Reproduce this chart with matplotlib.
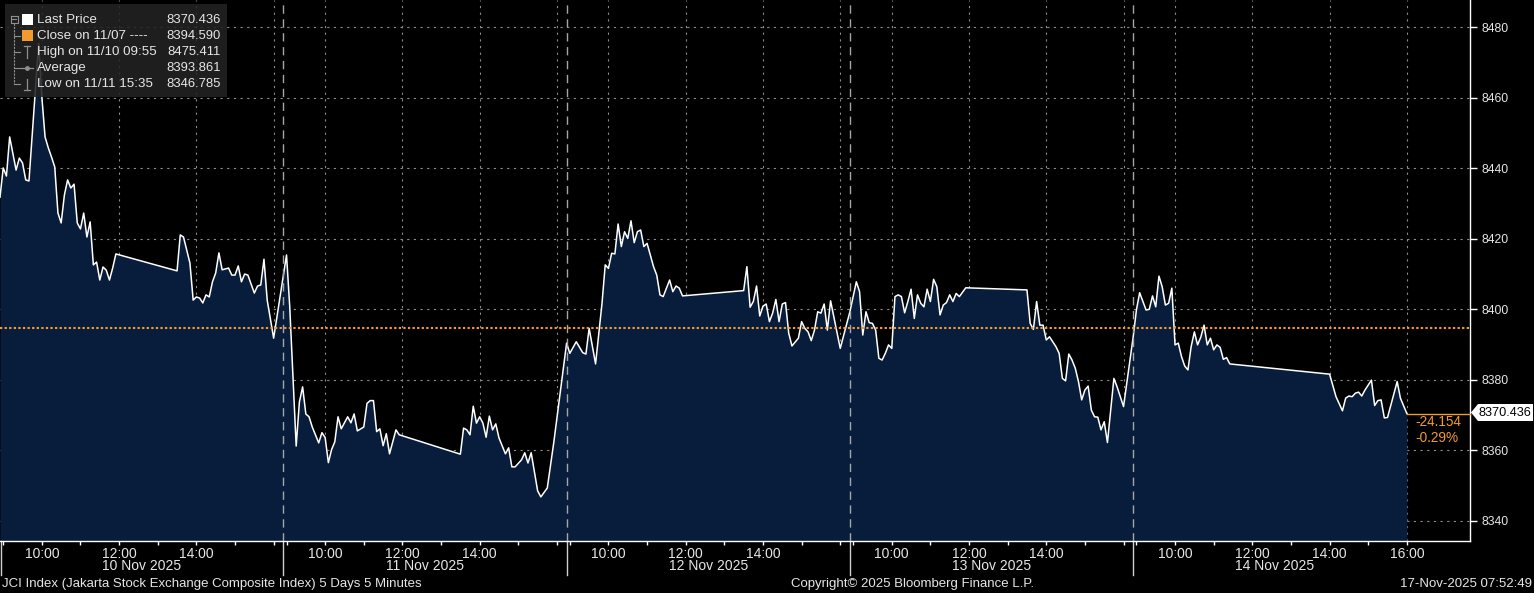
import matplotlib
matplotlib.use("Agg")
import matplotlib.pyplot as plt
from matplotlib import font_manager, transforms
from matplotlib.lines import Line2D
from matplotlib.patches import Rectangle, Polygon

W, H = 1534, 593

# ---------------- data ----------------
day_labels = ["10 Nov 2025", "11 Nov 2025", "12 Nov 2025", "13 Nov 2025", "14 Nov 2025"]

d1_times = ["08:55", "09:00", "09:05", "09:10", "09:20", "09:25", "09:30", "09:35", "09:40", "09:55",
            "10:00", "10:05", "10:10", "10:15", "10:20", "10:25", "10:30", "10:35", "10:40", "10:45",
            "10:50", "10:55", "11:00", "11:05", "11:10", "11:15", "11:20", "11:25", "11:30", "11:35",
            "11:40", "11:45", "11:50", "11:55",
            "13:30", "13:35", "13:40", "13:50", "13:55", "14:00", "14:05", "14:10", "14:15", "14:20",
            "14:25", "14:30", "14:35", "14:40", "14:50", "14:55", "15:00", "15:05", "15:10", "15:15",
            "15:20", "15:30", "15:35", "15:40", "15:45", "15:50", "16:00"]
d1_values = [8431.8, 8440.1, 8437.8, 8448.9, 8439.5, 8442.9, 8441.5, 8436.7, 8436.4, 8475.411,
             8460.2, 8448.9, 8445.8, 8443.2, 8440.4, 8427.3, 8424.5, 8432.4, 8436.7, 8434.4,
             8435.5, 8424.5, 8422.8, 8427.3, 8420.5, 8424.8, 8412.6, 8413.4, 8408.3, 8412.0,
             8411.1, 8408.3, 8411.7, 8415.7,
             8410.9, 8421.1, 8420.5, 8413.1, 8402.6, 8403.5, 8403.2, 8401.8, 8404.1, 8403.5,
             8407.8, 8410.3, 8416.0, 8411.2, 8411.7, 8409.7, 8409.7, 8412.3, 8407.8, 8410.0,
             8409.7, 8404.6, 8406.6, 8406.9, 8414.2, 8402.6, 8391.8]

d2_times = ["09:00", "09:05", "09:15", "09:20", "09:25", "09:30", "09:35", "09:40", "09:50", "09:55",
            "10:00", "10:05", "10:10", "10:15", "10:20", "10:25", "10:35", "10:40", "10:45", "10:50",
            "11:00", "11:05", "11:10", "11:15", "11:20", "11:25", "11:30", "11:35", "11:40", "11:50",
            "11:55",
            "13:30", "13:35", "13:40", "13:45", "13:50", "13:55", "14:00", "14:05", "14:10", "14:15",
            "14:20", "14:25", "14:30", "14:40", "14:45", "14:50", "14:55", "15:05", "15:10", "15:15",
            "15:20", "15:30", "15:35", "15:45", "15:55"]
d2_values = [8415.4, 8400.7, 8361.2, 8373.7, 8378.0, 8370.3, 8369.5, 8366.6, 8362.1, 8365.0,
             8363.6, 8356.5, 8360.2, 8362.4, 8369.5, 8366.1, 8369.5, 8367.8, 8370.3, 8365.5,
             8366.6, 8373.3, 8374.1, 8374.1, 8365.3, 8366.1, 8361.3, 8364.7, 8359.0, 8365.8,
             8364.4,
             8358.9, 8366.3, 8365.8, 8364.4, 8372.5, 8367.7, 8369.5, 8367.7, 8363.7, 8369.7,
             8365.8, 8367.5, 8363.5, 8359.0, 8360.7, 8355.3, 8355.3, 8357.3, 8359.3, 8356.4,
             8359.3, 8348.5, 8346.785, 8349.3, 8362.1]

d3_times = ["08:55", "09:00", "09:10", "09:20", "09:25", "09:30", "09:40", "09:50", "09:55", "10:00",
            "10:05", "10:10", "10:15", "10:20", "10:25", "10:30", "10:35", "10:40", "10:45", "10:50",
            "10:55", "11:00", "11:10", "11:15", "11:20", "11:25", "11:35", "11:40", "11:45", "11:50",
            "11:55",
            "13:30", "13:35", "13:40", "13:45", "13:50", "13:55", "14:00", "14:05", "14:10", "14:15",
            "14:20", "14:25", "14:30", "14:35", "14:40", "14:45", "14:55", "15:00", "15:05", "15:10",
            "15:15", "15:20", "15:25", "15:30", "15:35", "15:40", "15:45", "15:50", "16:00"]
d3_values = [8390.4, 8387.5, 8390.8, 8387.7, 8387.3, 8394.6, 8384.5, 8401.7, 8412.6, 8411.6,
             8415.9, 8415.7, 8424.2, 8417.8, 8422.0, 8420.1, 8425.1, 8418.9, 8422.0, 8422.5,
             8417.8, 8418.7, 8412.1, 8409.7, 8404.1, 8403.6, 8408.3, 8405.0, 8406.6, 8406.0,
             8403.8,
             8405.3, 8412.1, 8400.6, 8402.2, 8406.6, 8398.1, 8400.9, 8401.5, 8396.5, 8398.9,
             8402.8, 8396.5, 8401.5, 8401.9, 8393.2, 8389.6, 8391.8, 8396.5, 8394.6, 8393.6,
             8391.1, 8394.1, 8399.3, 8398.9, 8401.5, 8394.1, 8402.4, 8397.9, 8388.9]

d4_times = ["08:55", "09:05", "09:10", "09:15", "09:20", "09:25", "09:30", "09:35", "09:40", "09:45",
            "09:50", "09:55", "10:00", "10:05", "10:10", "10:15", "10:20", "10:25", "10:30", "10:35",
            "10:40", "10:45", "10:50", "10:55", "11:00", "11:05", "11:10", "11:15", "11:20", "11:25",
            "11:30", "11:35", "11:40", "11:45", "11:55",
            "13:30", "13:35", "13:40", "13:45", "13:50", "13:55", "14:00", "14:05", "14:10", "14:15",
            "14:20", "14:25", "14:30", "14:35", "14:40", "14:45", "14:50", "14:55", "15:00", "15:05",
            "15:10", "15:15", "15:20", "15:25", "15:30", "15:35", "15:45", "15:50", "16:00"]
d4_values = [8399.3, 8407.8, 8405.0, 8392.7, 8399.3, 8396.2, 8396.0, 8394.1, 8386.1, 8385.6,
             8387.5, 8389.9, 8388.9, 8403.6, 8404.1, 8403.6, 8399.0, 8402.2, 8405.7, 8397.4,
             8404.1, 8401.7, 8400.7, 8405.7, 8402.2, 8408.5, 8406.4, 8398.4, 8401.2, 8401.9,
             8404.1, 8402.2, 8404.5, 8403.6, 8406.1,
             8405.5, 8396.0, 8394.3, 8402.2, 8395.5, 8395.5, 8391.3, 8392.2, 8390.8, 8389.4,
             8387.5, 8380.4, 8379.7, 8387.3, 8385.6, 8383.3, 8379.5, 8374.3, 8377.1, 8378.2,
             8371.4, 8369.5, 8369.4, 8365.8, 8368.1, 8362.2, 8380.4, 8378.0, 8372.4]

d5_times = ["08:55", "09:00", "09:05", "09:15", "09:20", "09:25", "09:30", "09:35", "09:40", "09:45",
            "09:50", "09:55", "10:00", "10:05", "10:10", "10:15", "10:20", "10:25", "10:30", "10:35",
            "10:40", "10:45", "10:50", "10:55", "11:00", "11:05", "11:10", "11:15", "11:20", "11:25",
            "14:00", "14:10", "14:20", "14:25", "14:30", "14:35", "14:40", "14:45", "14:50", "14:55",
            "15:05", "15:10", "15:15", "15:20", "15:25", "15:30", "15:45", "15:50", "16:00"]
d5_values = [8392.2, 8399.8, 8404.7, 8399.8, 8400.0, 8403.8, 8400.7, 8409.4, 8406.4, 8401.2,
             8401.7, 8406.0, 8389.9, 8390.4, 8386.6, 8383.9, 8382.8, 8389.4, 8393.6, 8389.9,
             8392.1, 8395.5, 8389.9, 8391.8, 8388.5, 8389.9, 8389.2, 8385.8, 8386.3, 8384.5,
             8381.6, 8375.2, 8371.2, 8374.8, 8375.4, 8375.2, 8376.2, 8376.5, 8375.4, 8377.1,
             8379.9, 8372.7, 8374.1, 8374.3, 8369.2, 8369.3, 8379.5, 8374.8, 8370.436]

prev_close = 8394.590
last_price = 8370.436
high_value = 8475.411
average_value = 8393.861
low_value = 8346.785
y_ticks = [8340, 8360, 8380, 8400, 8420, 8440, 8460, 8480]
label_hours = [10, 12, 14]
grid_hours = [10, 12, 14, 16]

# ---------------- layout helpers ----------------
DAY_START = 8 * 60 + 55      # 08:55
DAY_LEN = 440                # 08:55 -> 16:15


def to_x(day, t):
    hh, mm = map(int, t.split(":"))
    return day * DAY_LEN + hh * 60 + mm - DAY_START


xs, ys = [], []
for d, (tt, vv) in enumerate([(d1_times, d1_values), (d2_times, d2_values), (d3_times, d3_values),
                              (d4_times, d4_values), (d5_times, d5_values)]):
    xs += [to_x(d, t) for t in tt]
    ys += vv

avail = {f.name for f in font_manager.fontManager.ttflist}
if "Liberation Sans Narrow" in avail:
    FONT, K = "Liberation Sans Narrow", 1.12
else:
    FONT, K = "Liberation Sans", 1.0
plt.rcParams["font.family"] = [FONT, "DejaVu Sans"]

FS_LEG = 9.6 * K
FS_LEGV = 9.4 * K
FS_FOOT = 9.5 * K
FS_XT = 10.0 * K
FS_DATE = 10.0 * K
FS_YT = 8.7 * K
FS_TAG = 9.2 * K
FS_CHG = 9.8 * K

TXT = "#e6e6e6"
ORANGE = "#f39a2e"
GRID = "#8c8c8c"
NAVY = "#071d3b"

fig = plt.figure(figsize=(W / 100, H / 100), dpi=100, facecolor="black")
AX_L, AX_R, AX_T, AX_B = 0, 1470, 0, 541
ax = fig.add_axes([AX_L / W, 1 - AX_B / H, (AX_R - AX_L) / W, (AX_B - AX_T) / H])
ax.set_facecolor("black")

XMAX = 1470 * DAY_LEN / 283.3
YMIN, YMAX = 8334.27, 8487.74
ax.set_xlim(0, XMAX)
ax.set_ylim(YMIN, YMAX)


def fx(x):
    return x / W


def fy(y):
    return 1 - y / H


# grid
for v in y_ticks:
    ax.axhline(v, color=GRID, lw=0.8, ls=(0, (2, 4)), zorder=1)
for d in range(5):
    for h in grid_hours:
        ax.axvline(d * DAY_LEN + h * 60 - DAY_START, color=GRID, lw=0.8, ls=(0, (2, 4)), zorder=1)
for d in range(1, 5):
    ax.axvline(d * DAY_LEN, color="#a6a6a6", lw=1.0, ls=(0, (6, 4)), zorder=4)

# area + line
ax.fill_between(xs, ys, YMIN, color=NAVY, lw=0, zorder=2)
ax.plot(xs, ys, color="white", lw=1.1, zorder=3)

# previous close line
ax.axhline(prev_close, color=ORANGE, lw=1.5, ls=(0, (1.1, 1.1)), zorder=5)

# last price connector
ax.plot([xs[-1], XMAX], [last_price, last_price], color=ORANGE, lw=1.0, zorder=5, clip_on=False)

# spines / ticks
for s in ["left", "top"]:
    ax.spines[s].set_visible(False)
for s in ["right", "bottom"]:
    ax.spines[s].set_color("white")
    ax.spines[s].set_linewidth(1.0)

ax.yaxis.tick_right()
ax.set_yticks(y_ticks)
ax.set_yticklabels([str(v) for v in y_ticks])
ax.tick_params(axis="y", colors="white", labelcolor=TXT, length=5, width=1, pad=3,
               labelsize=FS_YT)

major_x, major_lab = [], []
for d in range(5):
    hrs = label_hours + ([16] if d == 4 else [])
    for h in hrs:
        major_x.append(d * DAY_LEN + h * 60 - DAY_START)
        major_lab.append(f"{h}:00")
minor_x = [d * DAY_LEN + h * 60 - DAY_START for d in range(5) for h in range(9, 17)]
ax.set_xticks(major_x)
ax.set_xticklabels(major_lab)
ax.set_xticks(minor_x, minor=True)
ax.tick_params(axis="x", which="both", colors="white", labelcolor=TXT, length=3, width=1,
               labelsize=FS_XT, pad=1)

# date labels and day separators in the axis area
tb = transforms.blended_transform_factory(ax.transData, fig.transFigure)
for d, lab in enumerate(day_labels):
    ax.text(d * DAY_LEN + DAY_LEN / 2, fy(566.5), lab, transform=tb, ha="center", va="center",
            color=TXT, fontsize=FS_DATE, clip_on=False)
for d in range(0, 5):
    ax.add_line(Line2D([d * DAY_LEN + (1.5 if d == 0 else 0)] * 2, [fy(541), fy(575)], transform=tb,
                       color="#d0d0d0", lw=1.0, clip_on=False))

# footer
fig.text(fx(2), fy(584), "JCI Index (Jakarta Stock Exchange Composite Index) 5 Days 5 Minutes",
         ha="left", va="center", color=TXT, fontsize=FS_FOOT)
fig.text(fx(791), fy(584), "Copyright\u00a9 2025 Bloomberg Finance L.P.", ha="left", va="center",
         color=TXT, fontsize=FS_FOOT)
fig.text(fx(1532), fy(584), "17-Nov-2025 07:52:49", ha="right", va="center", color=TXT,
         fontsize=FS_FOOT)

# last price tag
tag = Polygon([(fx(1471), fy(412.5)), (fx(1478), fy(404)), (fx(1533), fy(404)),
               (fx(1533), fy(421)), (fx(1478), fy(421))], closed=True, transform=fig.transFigure,
              facecolor="white", edgecolor="none", zorder=6)
fig.add_artist(tag)
fig.text(fx(1505), fy(412.5), f"{last_price:.3f}", ha="center", va="center", color="black",
         fontsize=FS_TAG, zorder=7)
chg = last_price - prev_close
fig.text(fx(1415), fy(422), f"{chg:.3f}", ha="left", va="center", color=ORANGE, fontsize=FS_CHG)
fig.text(fx(1415), fy(438), f"{chg / prev_close * 100:.2f}%", ha="left", va="center", color=ORANGE,
         fontsize=FS_CHG)

# legend box
fig.add_artist(Rectangle((fx(5), fy(97)), 222 / W, 93 / H, transform=fig.transFigure,
                         facecolor="#232323", alpha=0.88, edgecolor="none", zorder=5))
LG = "#8f8f8f"


def fline(xx, yy, **kw):
    fig.add_artist(Line2D([fx(a) for a in xx], [fy(b) for b in yy], transform=fig.transFigure,
                          zorder=6, **kw))


# tree
fline([10.5, 17.5, 17.5, 10.5, 10.5], [15.5, 15.5, 22.5, 22.5, 15.5], color=LG, lw=0.8)
fline([12, 16], [19, 19], color=LG, lw=0.8)
fline([14, 14], [23, 84], color=LG, lw=0.8, ls=(0, (2, 1)))
for yy in [36, 52, 68, 84]:
    fline([14, 20], [yy, yy], color=LG, lw=0.8)
fig.add_artist(Rectangle((fx(22), fy(25)), 10.5 / W, 11 / H, transform=fig.transFigure,
                         facecolor="white", edgecolor="none", zorder=6))
fig.add_artist(Rectangle((fx(22), fy(41)), 10.5 / W, 11 / H, transform=fig.transFigure,
                         facecolor=ORANGE, edgecolor="none", zorder=6))
fline([27, 27], [46, 58], color=LG, lw=0.9)
fline([24, 30], [46, 46], color=LG, lw=0.9)
fline([21, 33], [68, 68], color=LG, lw=0.9)
fline([27], [68], color=LG, marker="o", ms=2.5, lw=0)
fline([27, 27], [79, 90], color=LG, lw=0.9)
fline([24, 30], [90, 90], color=LG, lw=0.9)

rows = [("Last Price", f"{last_price:.3f}"),
        ("Close on 11/07 ----", f"{prev_close:.3f}"),
        ("High on 11/10 09:55", f"{high_value:.3f}"),
        ("Average", f"{average_value:.3f}"),
        ("Low on 11/11 15:35", f"{low_value:.3f}")]
for i, (lab, val) in enumerate(rows):
    yy = 20 + 16 * i
    fig.text(fx(37), fy(yy), lab, ha="left", va="center", color=TXT, fontsize=FS_LEG, zorder=7)
    fig.text(fx(221), fy(yy), val, ha="right", va="center", color=TXT, fontsize=FS_LEGV, zorder=7)

fig.savefig("out.png", dpi=100, facecolor="black")
